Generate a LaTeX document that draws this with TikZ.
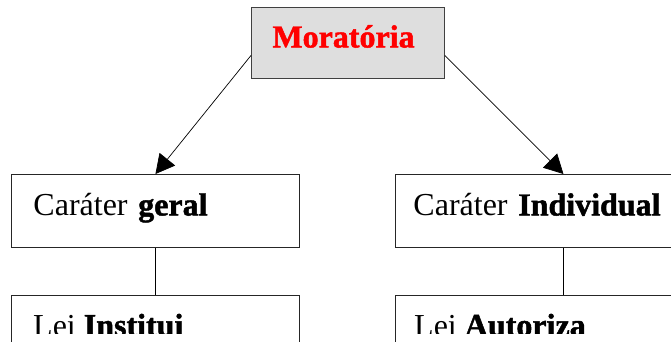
\documentclass[tikz,border=0pt]{standalone}
\usepackage{fontspec}
\setmainfont{Liberation Serif}[BoldFeatures={FakeBold=1.5}]
\usetikzlibrary{arrows.meta,calc}
\definecolor{boxgray}{RGB}{222,222,222}
\definecolor{morred}{RGB}{255,0,0}
\tikzset{
  topbox/.style={draw=black!75, line width=0.9pt, fill=boxgray, rectangle, anchor=north west,
    font=\fontsize{32}{36}\selectfont\bfseries, text=morred, align=left,
    text height=22pt, text depth=13pt, inner ysep=0pt},
  levelbox/.style={draw=black!85, line width=0.9pt, fill=white, rectangle, anchor=north west,
    font=\fontsize{32}{36}\selectfont, align=left, minimum height=73pt,
    text height=22pt, text depth=13pt, inner ysep=0pt},
  boxtext/.style={font=\fontsize{32}{36}\selectfont, anchor=base west, inner sep=0pt},
  arr/.style={line width=0.7pt, -{Triangle[length=19pt,width=20pt]}},
  link/.style={line width=0.7pt}
}
\begin{document}
\begin{tikzpicture}[x=1pt,y=-1pt]
\useasboundingbox (0,0) rectangle (671,341);
\clip (0,0) rectangle (671,341);
\node[topbox, minimum width=193pt, minimum height=71pt, inner xsep=21pt, text width=151pt] (mor) at (251,7) {Moratória};
\node[levelbox, minimum width=288pt, inner xsep=22pt, text width=244pt] (cg) at (11,174) {Caráter \textbf{geral}};
\node[levelbox, minimum width=336pt, inner xsep=18pt, text width=300pt] (ci) at (395,174) {Caráter \textbf{Individual}};
\node[levelbox, minimum width=288pt] (lg) at (11,295) {};
\node[levelbox, minimum width=336pt] (li) at (395,295) {};
\coordinate (ml) at ($(mor.west)+(0,12.5)$);
\coordinate (mr) at ($(mor.east)+(0,12.5)$);
\draw[arr] (ml) -- (cg.north);
\draw[arr] (mr) -- (ci.north);
\draw[link] (cg.south) -- (lg.north);
\draw[link] (ci.south) -- (li.north);
\begin{scope}
\clip (0,0) rectangle (671,333);
\node[boxtext] (lgt) at (33,336) {Lei \textbf{Institui}};
\node[boxtext] (lit) at (414,336) {Lei \textbf{Autoriza}};
\end{scope}
\end{tikzpicture}
\end{document}
